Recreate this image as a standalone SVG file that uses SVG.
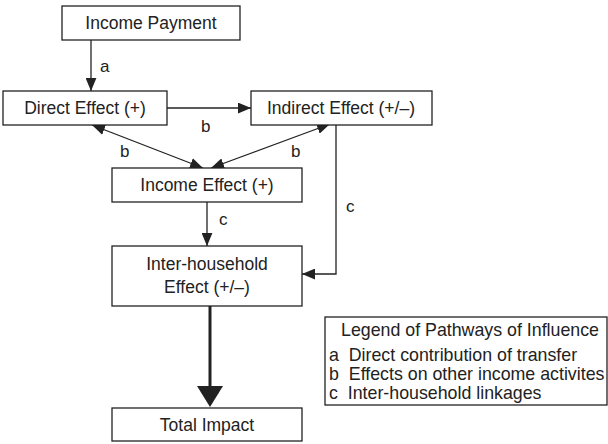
<svg xmlns="http://www.w3.org/2000/svg" width="608" height="444" viewBox="0 0 608 444">
<style>
.box{fill:#fff;stroke:#222;stroke-width:1.3}
.t{font-family:"Liberation Sans",Arial,Helvetica,sans-serif;font-size:17.5px;fill:#222;text-anchor:middle}
.l{font-family:"Liberation Sans",Arial,Helvetica,sans-serif;font-size:17.8px;fill:#222}
.lab{font-family:"Liberation Sans",Arial,Helvetica,sans-serif;font-size:17px;fill:#222}
.c{stroke:#222;stroke-width:1.3;fill:none}
</style>
<defs>
<marker id="ah" viewBox="0 0 12 10" markerUnits="userSpaceOnUse" markerWidth="13" markerHeight="11" refX="12" refY="5" orient="auto-start-reverse">
<path d="M0,0 L12,5 L0,10 z" fill="#222"/>
</marker>
</defs>
<rect width="608" height="444" fill="#fff"/>
<g id="connectors">
<line class="c" x1="91" y1="40" x2="91" y2="91" marker-end="url(#ah)"/>
<text class="lab" x="100" y="72">a</text>
<line class="c" x1="167" y1="108" x2="251" y2="108" marker-end="url(#ah)"/>
<text class="lab" x="201" y="132">b</text>
<line class="c" x1="92" y1="125" x2="203" y2="168" marker-start="url(#ah)" marker-end="url(#ah)"/>
<text class="lab" x="120" y="157">b</text>
<line class="c" x1="330" y1="124" x2="211" y2="168" marker-start="url(#ah)" marker-end="url(#ah)"/>
<text class="lab" x="291" y="157">b</text>
<line class="c" x1="207" y1="202" x2="207" y2="246" marker-end="url(#ah)"/>
<text class="lab" x="219" y="225">c</text>
<polyline class="c" points="336,125 336,274 302,274" marker-end="url(#ah)"/>
<text class="lab" x="346" y="212">c</text>
<line stroke="#222" stroke-width="3" x1="210" y1="306" x2="210" y2="388"/>
<polygon points="197,386 223,386 210,407" fill="#222"/>
</g>
<g id="income-payment">
<rect class="box" x="62" y="6" width="178" height="34"/>
<text class="t" x="151" y="29">Income Payment</text>
</g>
<g id="direct-effect">
<rect class="box" x="3" y="91" width="164" height="34"/>
<text class="t" x="85" y="114">Direct Effect (+)</text>
</g>
<g id="indirect-effect">
<rect class="box" x="251" y="91" width="181" height="34"/>
<text class="t" x="341" y="114">Indirect Effect (+/–)</text>
</g>
<g id="income-effect">
<rect class="box" x="112" y="168" width="190" height="34"/>
<text class="t" x="207" y="191">Income Effect (+)</text>
</g>
<g id="inter-household-effect">
<rect class="box" x="112" y="246" width="190" height="60"/>
<text class="t" x="207" y="270">Inter-household</text>
<text class="t" x="207" y="293">Effect (+/–)</text>
</g>
<g id="total-impact">
<rect class="box" x="112" y="408" width="190" height="33"/>
<text class="t" x="207" y="431">Total Impact</text>
</g>
<g id="legend">
<rect class="box" x="325" y="317" width="282" height="88"/>
<text class="l" x="341" y="336">Legend of Pathways of Influence</text>
<text class="l" x="329" y="361" xml:space="preserve">a  Direct contribution of transfer</text>
<text class="l" x="329" y="380" xml:space="preserve">b  Effects on other income activites</text>
<text class="l" x="329" y="399" xml:space="preserve">c  Inter-household linkages</text>
</g>
</svg>
